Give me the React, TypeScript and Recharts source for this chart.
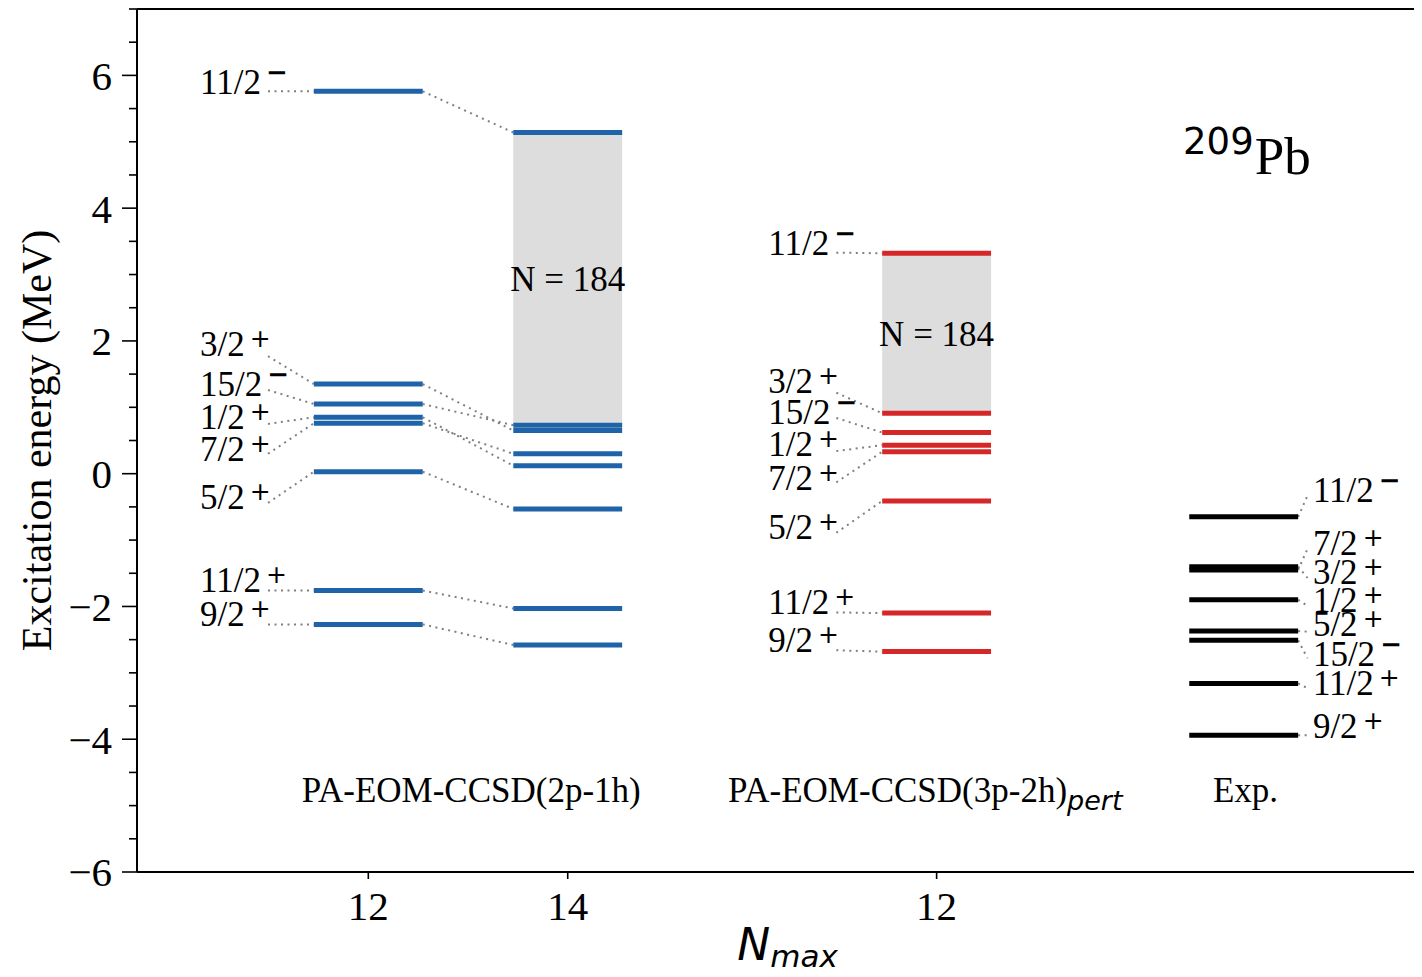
import React from "react";
import { ComposedChart, XAxis, YAxis, Scatter, ReferenceLine, ReferenceArea } from "recharts";

const SERIF = "'Liberation Serif', 'Times New Roman', Times, serif";
const SANS = "'DejaVu Sans', sans-serif";

// ---------- data ----------
const spins = ["11/2", "3/2", "15/2", "1/2", "7/2", "5/2", "11/2", "9/2"];
const parities = ["−", "+", "−", "+", "+", "+", "+", "+"];

const nmaxTicks = [1, 2, 3.85];
const nmaxTickLabels = ["12", "14", "12"];

const xBlue12 = 1;
const xBlue14 = 2;
const xRed12 = 3.85;
const xExp = 5.39;

const eBlue12 = [5.76, 1.35, 1.05, 0.85, 0.76, 0.03, -1.76, -2.27];
const eBlue14 = [5.14, 0.65, 0.73, 0.12, 0.3, -0.53, -2.03, -2.58];
const eRed12 = [3.32, 0.91, 0.62, 0.43, 0.33, -0.41, -2.1, -2.68];
const eExp = [-0.65, -1.4, -2.51, -1.9, -1.45, -2.37, -3.16, -3.94];

const blueLabelY = [5.72, 1.77, 1.17, 0.67, 0.19, -0.53, -1.78, -2.29];
const blueConnY = [5.76, 1.77, 1.26, 0.75, 0.3, -0.44, -1.76, -2.27];
const redLabelY = [3.29, 1.22, 0.75, 0.27, -0.24, -0.98, -2.12, -2.69];
const redConnY = [3.33, 1.22, 0.84, 0.34, -0.13, -0.89, -2.09, -2.66];
const expLabelY = [-0.43, -1.66, -2.9, -2.09, -1.23, -2.45, -3.34, -3.98];
const expConnY = [-0.33, -1.57, -2.78, -1.99, -1.13, -2.38, -3.23, -3.94];

const yTicks = [-6, -5.5, -5, -4.5, -4, -3.5, -3, -2.5, -2, -1.5, -1, -0.5, 0, 0.5, 1, 1.5, 2, 2.5, 3, 3.5, 4, 4.5, 5, 5.5, 6, 6.5, 7];
const yMajorTicks = [-6, -4, -2, 0, 2, 4, 6];

const groupNames = ["PA-EOM-CCSD(2p-1h)", "PA-EOM-CCSD(3p-2h)", "Exp."];
const groupNameSubs = ["", "pert", ""];
const groupNameX = [0.666, 2.804, 5.236];
const groupNameY = -4.95;

const gapLabel = "N = 184";
const nucleusMass = "209";
const nucleusSymbol = "Pb";
const nucleusX = 5.086;
const nucleusY = 4.82;

// ---------- layout constants ----------
const HALF = 0.273; // half width of a level bar (x units)
const LABEL_LEFT = 0.844;
const CONN_LEFT = 0.503;
const EXP_LABEL = 0.347;
const EXP_CONN = 0.32;
const BLUE = "#1f64a8";
const RED = "#d62728";
const CONN = "#808080";

const levelLabels = [
  ...spins.map((s, i) => ({ x: xBlue12 - LABEL_LEFT, y: blueLabelY[i], spin: s, parity: parities[i] })),
  ...spins.map((s, i) => ({ x: xRed12 - LABEL_LEFT, y: redLabelY[i], spin: s, parity: parities[i] })),
  ...spins.map((s, i) => ({ x: xExp + EXP_LABEL, y: expLabelY[i], spin: s, parity: parities[i] })),
];

const blueBand = [Math.max(...eBlue14.slice(1)), eBlue14[0]];
const redBand = [Math.max(...eRed12.slice(1)), eRed12[0]];

const annotations = [
  ...groupNames.map((g, i) => ({ x: groupNameX[i], y: groupNameY, kind: "group", text: g, sub: groupNameSubs[i] })),
  { x: xBlue14, y: (blueBand[0] + blueBand[1]) / 2, kind: "gap", text: gapLabel, sub: "" },
  { x: xRed12, y: (redBand[0] + redBand[1]) / 2, kind: "gap", text: gapLabel, sub: "" },
  { x: nucleusX, y: nucleusY, kind: "nucleus", text: nucleusSymbol, sub: nucleusMass },
];

type Seg = { x1: number; y1: number; x2: number; y2: number };
const connectors: Seg[] = [
  ...spins.map((_, i) => ({ x1: xBlue12 - CONN_LEFT, y1: blueConnY[i], x2: xBlue12 - HALF, y2: eBlue12[i] })),
  ...spins.map((_, i) => ({ x1: xBlue12 + HALF, y1: eBlue12[i], x2: xBlue14 - HALF, y2: eBlue14[i] })),
  ...spins.map((_, i) => ({ x1: xRed12 - CONN_LEFT, y1: redConnY[i], x2: xRed12 - HALF, y2: eRed12[i] })),
  ...spins.map((_, i) => ({ x1: xExp + HALF, y1: eExp[i], x2: xExp + EXP_CONN, y2: expConnY[i] })),
];

const levels = [
  ...eBlue12.map((e) => ({ x: xBlue12, e, color: BLUE })),
  ...eBlue14.map((e) => ({ x: xBlue14, e, color: BLUE })),
  ...eRed12.map((e) => ({ x: xRed12, e, color: RED })),
  ...eExp.map((e) => ({ x: xExp, e, color: "#000" })),
];

// ---------- renderers ----------
const LevelLabel = (p: any) => {
  const { cx, cy, payload } = p;
  if (cx == null || cy == null) return null;
  const plus = payload.parity === "+";
  return (
    <text x={cx} y={cy} fontFamily={SERIF} fontSize={35} fill="#000">
      {payload.spin}
      <tspan
        fontFamily={SANS}
        fontSize={plus ? 25 : 26}
        fontWeight={plus ? "normal" : "bold"}
        dx={5}
        dy={plus ? -9 : -13}
      >
        {payload.parity}
      </tspan>
    </text>
  );
};

const Annotation = (p: any) => {
  const { cx, cy, payload } = p;
  if (cx == null || cy == null) return null;
  if (payload.kind === "gap") {
    return (
      <text x={cx} y={cy} dy="0.35em" textAnchor="middle" fontFamily={SERIF} fontSize={35} fill="#000">
        {payload.text}
      </text>
    );
  }
  if (payload.kind === "nucleus") {
    return (
      <text x={cx} y={cy} fontFamily={SANS} fontSize={37} fill="#000">
        {payload.sub}
        <tspan fontFamily={SERIF} fontSize={53} dx={1} dy={20}>
          {payload.text}
        </tspan>
      </text>
    );
  }
  return (
    <text x={cx} y={cy} fontFamily={SERIF} fontSize={35} fill="#000">
      {payload.text}
      {payload.sub ? (
        <tspan fontFamily={SANS} fontStyle="italic" fontSize={27} dy={8}>
          {payload.sub}
        </tspan>
      ) : null}
    </text>
  );
};

const fmtY = (v: number) => (v < 0 ? "−" + Math.abs(v) : String(v));

const YTick = (p: any) => {
  const { x, y, payload } = p;
  const v = payload.value;
  const major = yMajorTicks.includes(v);
  const len = major ? 15 : 8;
  return (
    <g>
      <line x1={x - len} x2={x} y1={y} y2={y} stroke="#000" strokeWidth={1.6} />
      {major ? (
        <text x={x - len - 10} y={y} dy="0.35em" textAnchor="end" fontFamily={SERIF} fontSize={41} fill="#000">
          {fmtY(v)}
        </text>
      ) : null}
    </g>
  );
};

const XTick = (p: any) => {
  const { x, y, payload } = p;
  const idx = nmaxTicks.indexOf(payload.value);
  return (
    <g>
      <line x1={x} x2={x} y1={y} y2={y + 7} stroke="#000" strokeWidth={1.6} />
      <text x={x} y={y + 48} textAnchor="middle" fontFamily={SERIF} fontSize={41} fill="#000">
        {nmaxTickLabels[idx]}
      </text>
    </g>
  );
};

const XLabel = (p: any) => {
  const vb = p.viewBox || {};
  const cx = vb.x + vb.width / 2 + 12;
  const base = vb.y + 88;
  return (
    <text x={cx} y={base} textAnchor="middle" fontFamily={SANS} fill="#000">
      <tspan fontStyle="italic" fontSize={44}>N</tspan>
      <tspan fontStyle="italic" fontSize={31} dy={7}>max</tspan>
    </text>
  );
};

const YLabel = (p: any) => {
  const vb = p.viewBox || {};
  const cx = 43;
  const cy = vb.y + vb.height / 2;
  return (
    <text x={cx} y={cy} textAnchor="middle" transform={`rotate(-90, ${cx}, ${cy})`} fontFamily={SERIF} fontSize={42} fill="#000">
      Excitation energy (MeV)
    </text>
  );
};

export default function App() {
  return (
    <ComposedChart width={1406} height={961} margin={{ top: 1, right: 0, bottom: 0, left: 0 }}>
      <XAxis
        type="number"
        dataKey="x"
        domain={[-0.16, 6.244]}
        allowDataOverflow
        ticks={nmaxTicks}
        interval={0}
        height={97}
        tickSize={0}
        tickMargin={0}
        tickLine={false}
        tick={<XTick />}
        axisLine={{ stroke: "#000", strokeWidth: 2 }}
        label={<XLabel />}
      />
      <YAxis
        type="number"
        dataKey="y"
        domain={[-6, 7]}
        allowDataOverflow
        ticks={yTicks}
        interval={0}
        width={129}
        tickSize={0}
        tickMargin={0}
        tickLine={false}
        tick={<YTick />}
        axisLine={{ stroke: "#000", strokeWidth: 2 }}
        label={<YLabel />}
      />
      <ReferenceArea x1={xBlue14 - HALF} x2={xBlue14 + HALF} y1={blueBand[0]} y2={blueBand[1]} fill="#dddddd" fillOpacity={1} stroke="none" />
      <ReferenceArea x1={xRed12 - HALF} x2={xRed12 + HALF} y1={redBand[0]} y2={redBand[1]} fill="#dddddd" fillOpacity={1} stroke="none" />
      <ReferenceLine y={7} stroke="#000" strokeWidth={2} />
      {connectors.map((c, i) => (
        <ReferenceLine
          key={"c" + i}
          segment={[{ x: c.x1, y: c.y1 }, { x: c.x2, y: c.y2 }]}
          stroke={CONN}
          strokeWidth={2}
          strokeDasharray="2 4.5"
        />
      ))}
      {levels.map((l, i) => (
        <ReferenceLine
          key={"l" + i}
          segment={[{ x: l.x - HALF, y: l.e }, { x: l.x + HALF, y: l.e }]}
          stroke={l.color}
          strokeWidth={5}
        />
      ))}
      <Scatter data={levelLabels} shape={<LevelLabel />} isAnimationActive={false} />
      <Scatter data={annotations} shape={<Annotation />} isAnimationActive={false} />
    </ComposedChart>
  );
}
